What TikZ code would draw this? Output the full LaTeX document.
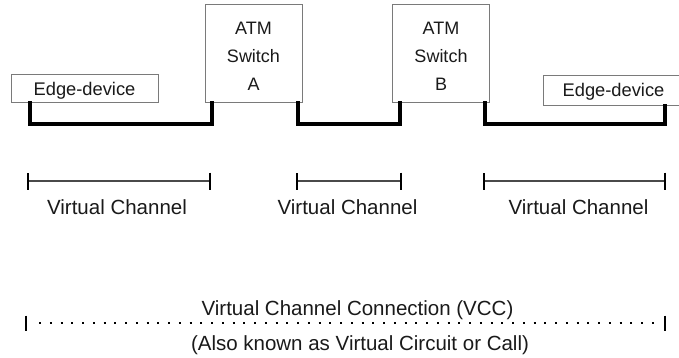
\documentclass[tikz,border=0pt]{standalone}
\usepackage{fontspec}
\setmainfont{Liberation Sans}
\usetikzlibrary{arrows.meta}

\definecolor{boxline}{HTML}{7A7A7A}
\definecolor{chanline}{HTML}{4A4A4A}
\definecolor{ink}{HTML}{1A1A1A}

\tikzset{
  device/.style={draw=boxline, line width=1pt, fill=white, text=ink,
    inner sep=0pt, font=\fontsize{18.3}{22}\selectfont,
    text height=13.2pt, text depth=0pt},
  switchbox/.style={draw=boxline, line width=1pt, fill=white, text=ink,
    inner sep=0pt, align=center, font=\fontsize{18}{28}\selectfont,
    minimum width=97pt, minimum height=98pt,
    text height=74pt, text depth=0pt},
  link/.style={line width=4pt, black, line cap=rect, line join=miter},
  chan/.style={line width=1.3pt, chanline,
    {Bar[width=17pt,line width=2pt,color=black]}-{Bar[width=17pt,line width=2pt,color=black]}},
  vcctick/.style={line width=2.6pt, black},
  vccdots/.style={line width=2pt, black, dash pattern=on 2pt off 8.75pt},
  label/.style={text=ink, font=\fontsize{20.5}{24}\selectfont, anchor=base, inner sep=0pt},
}

\begin{document}
\begin{tikzpicture}[x=1pt, y=-1pt]
  \useasboundingbox[fill=white] (0,0) rectangle (679,358);

  % devices and switches
  \node[device, minimum width=147pt, minimum height=28pt] (ed1) at (84.5,89) {Edge-device};
  \node[switchbox] (swA) at (253.5,54) {ATM\\Switch\\A};
  \node[switchbox] (swB) at (441,54) {ATM\\Switch\\B};
  \node[device, minimum width=141pt, minimum height=29.5pt] (ed2) at (613.5,90.3) {Edge-device};

  % physical links between neighbours
  \draw[link] ([xshift=19pt]ed1.south west) -- ++(0,21) -| ([xshift=7pt]swA.south west);
  \draw[link] ([xshift=-5pt]swA.south east) -- ++(0,21) -| ([xshift=8pt]swB.south west);
  \draw[link] ([xshift=-5pt]swB.south east) -- ++(0,21) -| ([xshift=122pt]ed2.south west);

  % virtual channel spans
  \coordinate (v1a) at (27,181);  \coordinate (v1b) at (211,181);
  \coordinate (v2a) at (296,181); \coordinate (v2b) at (402,181);
  \coordinate (v3a) at (483,181); \coordinate (v3b) at (666,181);
  \draw[chan] (v1a) -- (v1b);
  \draw[chan] (v2a) -- (v2b);
  \draw[chan] (v3a) -- (v3b);
  \node[label] (vc1) at (117,214) {Virtual Channel};
  \node[label] (vc2) at (347.5,214) {Virtual Channel};
  \node[label] (vc3) at (578.5,214) {Virtual Channel};

  % end-to-end connection
  \coordinate (vcca) at (26,323);
  \coordinate (vccb) at (665,323);
  \draw[vcctick] ([yshift=7.5pt]vcca) -- ([yshift=-7.5pt]vcca);
  \draw[vcctick] ([yshift=7.5pt]vccb) -- ([yshift=-7.5pt]vccb);
  \draw[vccdots, shorten <=13pt, shorten >=11.25pt] (vcca) -- (vccb);
  \node[label] (vcc) at (357.5,315) {Virtual Channel Connection (VCC)};
  \node[label] (aka) at (360,350) {(Also known as Virtual Circuit or Call)};
\end{tikzpicture}
\end{document}
